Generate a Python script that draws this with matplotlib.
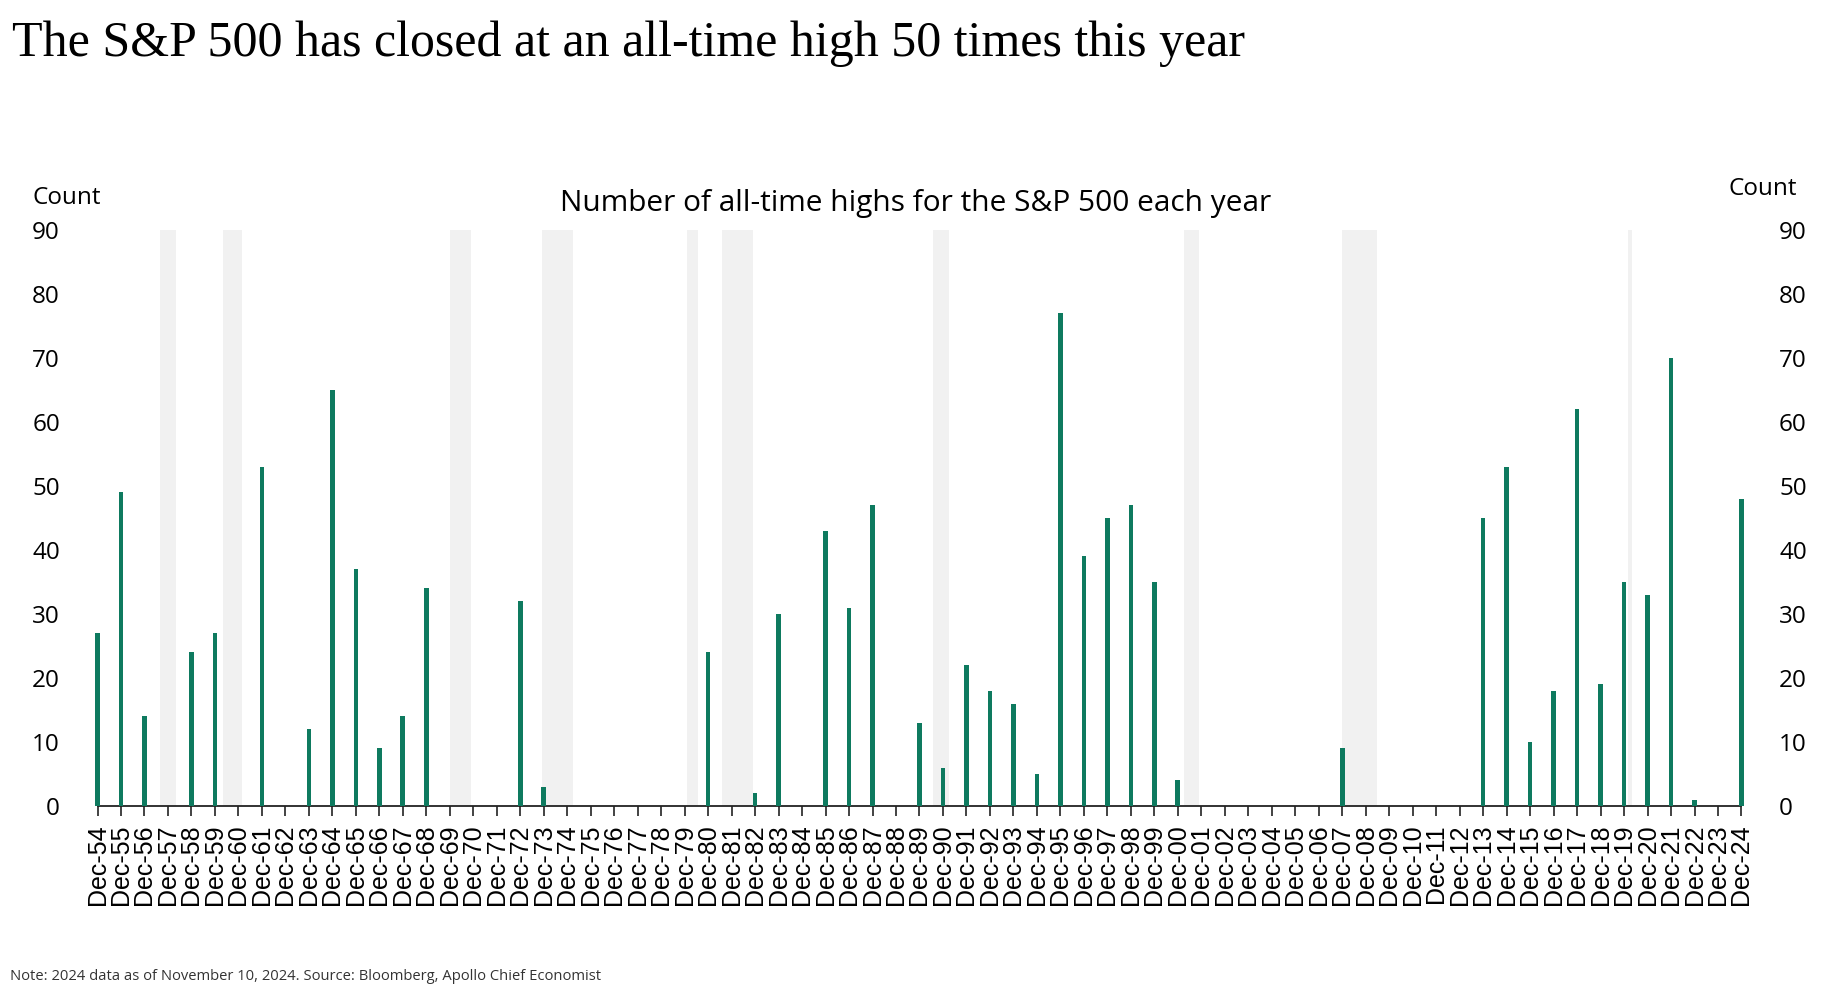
import matplotlib
matplotlib.use('Agg')
import matplotlib.pyplot as plt
import numpy as np

# number of all-time highs per year, Dec-54 .. Dec-24
years = list(range(1954, 2025))
labels = ['Dec-%02d' % (y % 100) for y in years]
counts = [27, 49, 14, 0, 24, 27, 0, 53, 0, 12,
          65, 37, 9, 14, 34, 0, 0, 0, 32, 3,
          0, 0, 0, 0, 0, 0, 24, 0, 2, 30,
          0, 43, 31, 47, 0, 13, 6, 22, 18, 16,
          5, 77, 39, 45, 47, 35, 4, 0, 0, 0,
          0, 0, 0, 9, 0, 0, 0, 0, 0, 45,
          53, 10, 18, 62, 19, 35, 33, 70, 1, 0,
          48]

# recessions (shaded)
rec_start = ['1957-08', '1960-04', '1969-12', '1973-11', '1980-01',
             '1981-07', '1990-07', '2001-03', '2007-12', '2020-02']
rec_end = ['1958-04', '1961-02', '1970-11', '1975-03', '1980-07',
           '1982-11', '1991-03', '2001-11', '2009-06', '2020-04']


def to_pos(s):
    yr, mo = s.split('-')
    return ((int(yr) - 1954) * 12 + int(mo) - 12) / 12.0


W, H = 1848, 1000
fig = plt.figure(figsize=(W / 100, H / 100), dpi=100)
ax = fig.add_axes([94 / W, 1 - 806 / H, (1745 - 94) / W, (806 - 230) / H])

for s, e in zip(rec_start, rec_end):
    ax.axvspan(to_pos(s), to_pos(e), color='#f1f1f1', lw=0, zorder=0)

x = np.arange(len(years))
ax.bar(x, counts, width=0.2, color='#0e7a5f', zorder=3, clip_on=False)

ax.set_xlim(-0.15, len(years) - 1 + 0.15)
ax.set_ylim(0, 90)
ax.set_yticks(range(0, 91, 10))
ax.set_xticks(x)
ax.set_xticklabels(labels, rotation=90, fontsize=18, family='Liberation Sans')

for s in ['top', 'left', 'right']:
    ax.spines[s].set_visible(False)
ax.spines['bottom'].set_bounds(0, len(years) - 1)
ax.spines['bottom'].set_linewidth(1.3)
ax.spines['bottom'].set_color('#222222')

ax.tick_params(axis='x', length=7, width=1.2, color='#222222', pad=6)
ax.tick_params(axis='y', left=False, right=False, labelleft=True,
               labelright=True, pad=21, labelsize=17.5)
for lab in ax.get_yticklabels():
    lab.set_family('Open Sans')

fig.text(12 / W, 1 - 44 / H, 'The S&P 500 has closed at an all-time high 50 times this year',
         family='Liberation Serif', fontsize=36, va='center', ha='left')
fig.text(916 / W, 1 - 204 / H, 'Number of all-time highs for the S&P 500 each year',
         family='Open Sans', fontsize=21.5, va='center', ha='center')
fig.text(32 / W, 1 - 198 / H, 'Count', family='Open Sans', fontsize=17.5,
         va='center', ha='left')
fig.text(1797 / W, 1 - 189 / H, 'Count', family='Open Sans', fontsize=17.5,
         va='center', ha='right')
fig.text(10 / W, 1 - 976 / H,
         'Note: 2024 data as of November 10, 2024. Source: Bloomberg, Apollo Chief Economist',
         family='Open Sans', fontsize=10.6, va='center', ha='left', color='#333333')

fig.savefig('out.png', dpi=100)
